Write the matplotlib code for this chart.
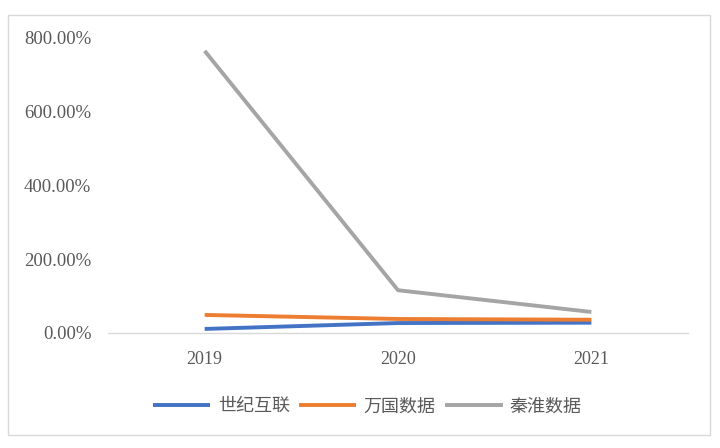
import matplotlib
matplotlib.use("Agg")
import matplotlib.pyplot as plt
from matplotlib.patches import Rectangle

years = ["2019", "2020", "2021"]
shiji = [11, 27, 28]      # 世纪互联
wanguo = [49, 38, 36]     # 万国数据
qinhuai = [765, 116, 57]  # 秦淮数据
yticks = [0, 200, 400, 600, 800]

plt.rcParams['font.family'] = ['Noto Sans CJK SC', 'DejaVu Sans']

fig = plt.figure(figsize=(7.2, 4.48), dpi=100)
ax = fig.add_axes([0.15, 0.2567, 0.8056, 0.6585])

x = [0.5, 1.5, 2.5]
ax.plot(x, shiji, color='#4472C4', lw=2.8, label='世纪互联', solid_capstyle='butt')
ax.plot(x, wanguo, color='#ED7D31', lw=2.8, label='万国数据', solid_capstyle='butt')
ax.plot(x, qinhuai, color='#A5A5A5', lw=2.8, label='秦淮数据', solid_capstyle='butt')

ax.set_xlim(0, 3)
ax.set_ylim(0, 800)
ax.set_xticks(x)
ax.set_xticklabels(years, family='Liberation Serif', fontsize=13, color='#595959')
ax.set_yticks(yticks)
ax.set_yticklabels([f"{v}.00%" for v in yticks], family='Liberation Serif',
                   fontsize=13.5, color='#595959')
ax.tick_params(axis='y', length=0, pad=12)
ax.tick_params(axis='x', length=0, pad=13)
for s in ['top', 'right', 'left']:
    ax.spines[s].set_visible(False)
ax.spines['bottom'].set_color('#D9D9D9')
ax.spines['bottom'].set_linewidth(1)

leg = fig.legend(loc='center', bbox_to_anchor=(0.51, 0.093), ncol=3, frameon=False,
                 fontsize=13, handlelength=3.2, columnspacing=0.5, handletextpad=0.4)
for t in leg.get_texts():
    t.set_color('#595959')

fig.patches.append(Rectangle((8 / 720, 1 - 435 / 448), 702 / 720, 420 / 448,
                             transform=fig.transFigure, fill=False,
                             edgecolor='#D9D9D9', lw=1))

fig.savefig('out.png', dpi=100)
